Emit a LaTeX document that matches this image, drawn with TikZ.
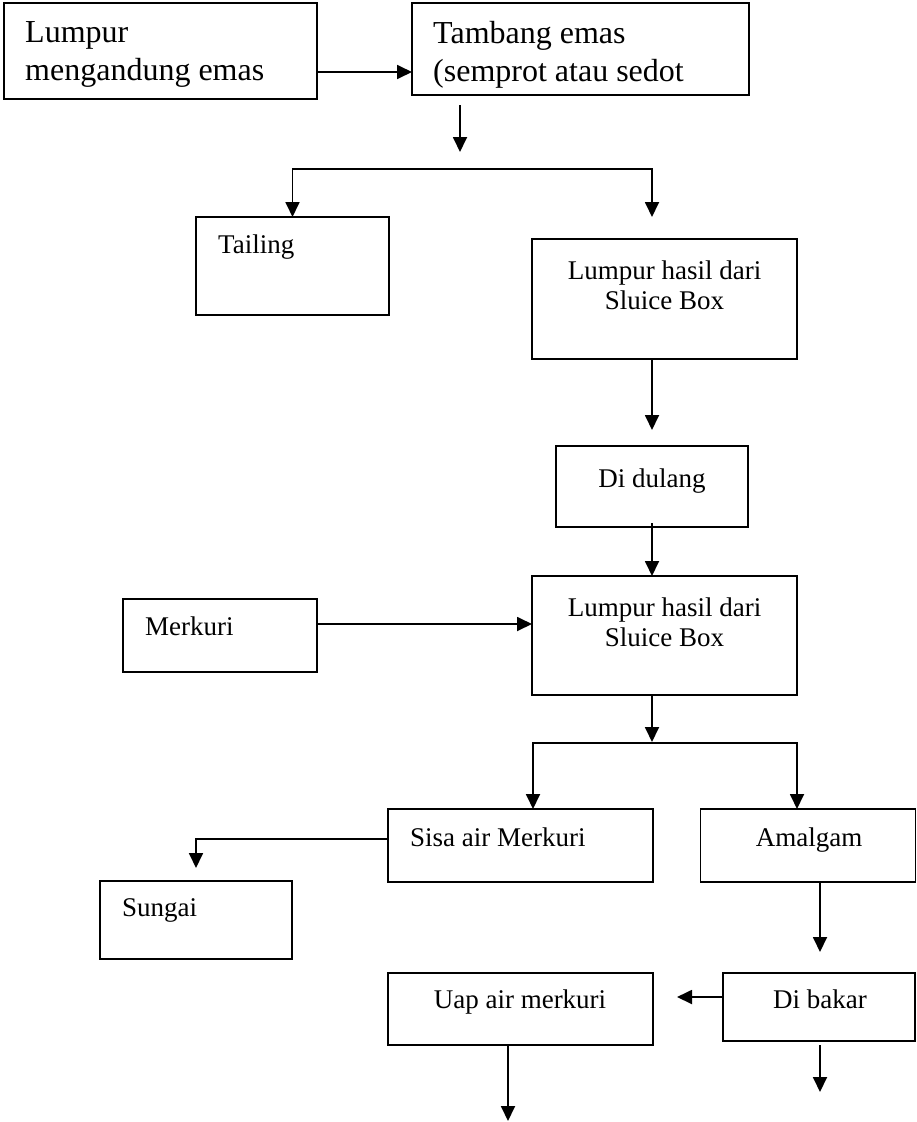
\documentclass[tikz,border=0pt]{standalone}
\usepackage{fontspec}
\setmainfont{Liberation Serif}
\usetikzlibrary{arrows.meta}
\begin{document}
\begin{tikzpicture}[x=1pt,y=-1pt,
  box/.style={draw,line width=1.8pt,inner sep=0pt,outer sep=0pt},
  txtL/.style={font=\fontsize{32}{38}\selectfont,inner sep=0pt,align=left},
  txtS/.style={font=\fontsize{27}{30}\selectfont,inner sep=0pt},
  arr/.style={line width=1.8pt,-{Triangle[length=15pt,width=14pt]}},
  arrs/.style={line width=1.8pt,{Triangle[length=15pt,width=14pt]}-{Triangle[length=15pt,width=14pt]}}]
\fill[white] (0,0) rectangle (917,1122);
\useasboundingbox (0,0) rectangle (917,1122);
% boxes
\node[box,minimum width=313pt,minimum height=96pt] (b1) at (160.5,51) {};
\node[box,minimum width=337pt,minimum height=92pt] (b2) at (580.5,49) {};
\node[box,minimum width=193pt,minimum height=98pt] (tail) at (292.5,266) {};
\node[box,minimum width=265pt,minimum height=120pt] (lh1) at (664.5,299) {};
\node[box,minimum width=192pt,minimum height=81pt] (dd) at (652,486.5) {};
\node[box,minimum width=265pt,minimum height=119pt] (lh2) at (664.5,635.5) {};
\node[box,minimum width=194pt,minimum height=73pt] (mk) at (220,635.5) {};
\node[box,minimum width=265pt,minimum height=73pt] (sisa) at (520.5,845.5) {};
\node[box,minimum width=215pt,minimum height=73pt] (amal) at (808,845.5) {};
\node[box,minimum width=192pt,minimum height=78pt] (sung) at (196,920) {};
\node[box,minimum width=265pt,minimum height=72pt] (uap) at (520.5,1009) {};
\node[box,minimum width=192pt,minimum height=68pt] (bakar) at (819,1007) {};
% texts
\node[txtL,anchor=north west] (t1) at (25,21.5) {Lumpur\\mengandung emas};
\node[txtL,anchor=north west] (t2) at (433,21) {Tambang emas\\(semprot atau sedot};
\node[txtS,anchor=base west] (t3) at (218,253) {Tailing};
\node[txtS,anchor=north,align=center] (t4) at (664.5,261) {Lumpur hasil dari\\Sluice Box};
\node[txtS,anchor=base] (t5) at (652,487) {Di dulang};
\node[txtS,anchor=north,align=center] (t6) at (664.5,598) {Lumpur hasil dari\\Sluice Box};
\node[txtS,anchor=base west] (t7) at (145,635) {Merkuri};
\node[txtS,anchor=base west] (t8) at (410,846) {Sisa air Merkuri};
\node[txtS,anchor=base] (t9) at (809,846) {Amalgam};
\node[txtS,anchor=base west] (t10) at (122,916) {Sungai};
\node[txtS,anchor=base] (t11) at (520,1008) {Uap air merkuri};
\node[txtS,anchor=base] (t12) at (820,1008) {Di bakar};
% coordinates
\coordinate (a1s) at (460,105);
\coordinate (a1e) at (460,152);
\coordinate (sl) at (293,169);
\coordinate (sr) at (652,169);
\coordinate (srb) at (652,217);
\coordinate (a2e) at (652,430);
\coordinate (a3e) at (652,742);
\coordinate (s2l) at (533,743);
\coordinate (s2r) at (797,743);
\coordinate (sg) at (196,839);
\coordinate (sge) at (196,868);
\coordinate (ame) at (820,952);
\coordinate (bke) at (677,997);
\coordinate (bks) at (820,1045);
\coordinate (bke2) at (820,1092);
\coordinate (uae) at (508,1121);
% connectors
\draw[arr] ([yshift=-21pt]b1.east) -- ([yshift=-21pt]b1.east -| b2.west);
\draw[arr] (a1s) -- (a1e);
\draw[arrs] (tail.north) -- (tail.north |- sl) -- (sr) -- (srb);
\draw[arr] (lh1.south -| dd.center) -- (a2e);
\draw[arr] ([yshift=4pt]dd.south) -- (dd.south |- lh2.north);
\draw[arr] ([yshift=11.5pt]mk.east) -- ([yshift=11.5pt]mk.east -| lh2.west);
\draw[arr] (lh2.south -| dd.center) -- (a3e);
\draw[arrs] (s2l |- sisa.north) -- (s2l) -- (s2r) -- (s2r |- amal.north);
\draw[arr] ([yshift=6.5pt]sisa.west) -- (sg) -- (sge);
\draw[arr] (amal.south -| ame) -- (ame);
\draw[arr] ([yshift=10pt]bakar.west) -- (bke);
\draw[arr] (bks) -- (bke2);
\draw[arr] (uap.south -| uae) -- (uae);
\end{tikzpicture}
\end{document}
